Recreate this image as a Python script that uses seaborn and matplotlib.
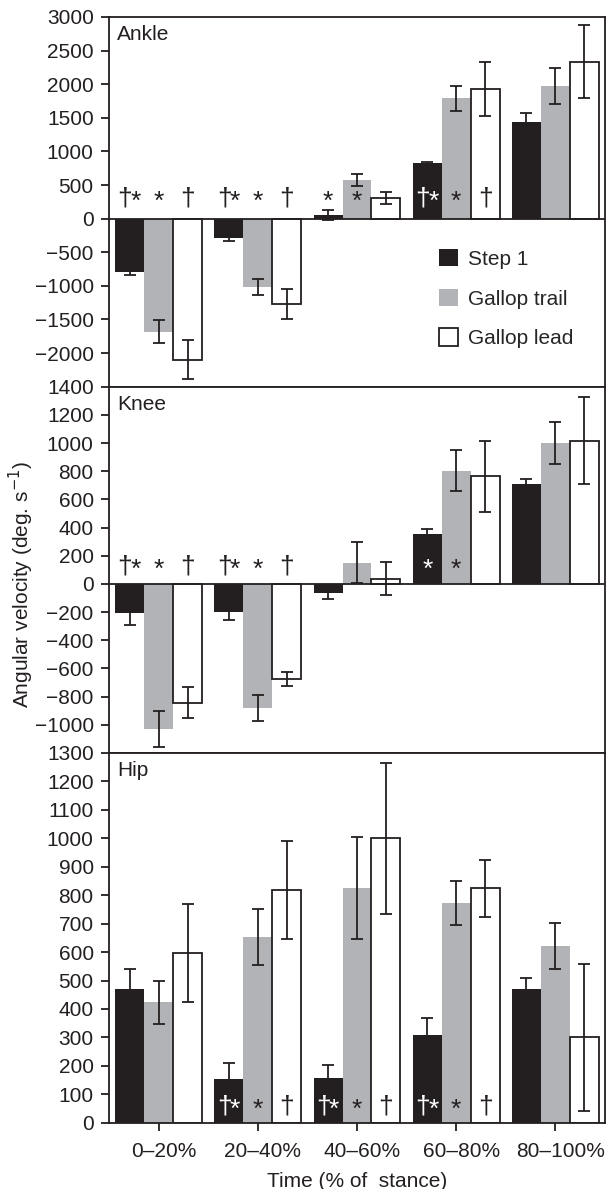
import numpy as np
import pandas as pd
import matplotlib
matplotlib.use("Agg")
import matplotlib.pyplot as plt
import matplotlib.transforms as mtransforms
import seaborn as sns

# ---- data ----
phases = ["0–20%", "20–40%", "40–60%", "60–80%", "80–100%"]
gaits = ["Step 1", "Gallop trail", "Gallop lead"]
joints = ["Ankle", "Knee", "Hip"]

# means per gait (rows: Step 1, Gallop trail, Gallop lead)
ankle_mean = [[-790, -285, 55, 825, 1435],
              [-1680, -1020, 570, 1790, 1970],
              [-2100, -1270, 305, 1930, 2335]]
ankle_err = [[50, 40, 80, 20, 140],
             [165, 115, 90, 190, 265],
             [290, 225, 90, 405, 540]]

knee_mean = [[-208, -196, -61, 356, 710],
             [-1030, -880, 150, 804, 1000],
             [-845, -675, 38, 764, 1016]]
knee_err = [[80, 60, 47, 33, 33],
            [125, 90, 145, 146, 146],
            [110, 48, 117, 253, 308]]

hip_mean = [[470, 153, 156, 308, 470],
            [424, 653, 826, 773, 622],
            [596, 818, 1000, 825, 300]]
hip_err = [[72, 57, 48, 59, 40],
           [76, 100, 180, 78, 81],
           [173, 171, 265, 100, 258]]

# significance marks: (phase index, gait index, symbol, white text?)
ankle_marks = [(0, 0, "†*", False), (0, 1, "*", False), (0, 2, "†", False),
               (1, 0, "†*", False), (1, 1, "*", False), (1, 2, "†", False),
               (2, 0, "*", False), (2, 1, "*", False),
               (3, 0, "†*", True), (3, 1, "*", False), (3, 2, "†", False)]
knee_marks = [(0, 0, "†*", False), (0, 1, "*", False), (0, 2, "†", False),
              (1, 0, "†*", False), (1, 1, "*", False), (1, 2, "†", False),
              (3, 0, "*", True), (3, 1, "*", False)]
hip_marks = [(1, 0, "†*", True), (1, 1, "*", False), (1, 2, "†", False),
             (2, 0, "†*", True), (2, 1, "*", False), (2, 2, "†", False),
             (3, 0, "†*", True), (3, 1, "*", False), (3, 2, "†", False)]

ylims = [(-2500, 3000), (-1200, 1400), (0, 1300)]
yticks = [np.arange(-2000, 3001, 500), np.arange(-1000, 1401, 200), np.arange(0, 1301, 100)]
mark_lift = [14.5, 12.5, 11.5]  # height of dagger centre above zero, points

ink = "#231f20"
colours = [ink, "#b1b3b6", "#ffffff"]
fs = 15

sns.set_style("ticks")
plt.rcParams["font.family"] = ["Liberation Sans", "DejaVu Sans"]
plt.rcParams["font.size"] = fs
plt.rcParams["axes.linewidth"] = 1.3
plt.rcParams["axes.edgecolor"] = ink

fig = plt.figure(figsize=(6.13, 11.89), dpi=100)
left, width = 109 / 613, 496 / 613
tops = [17, 386.7, 753]
bottoms = [386.7, 753, 1122.7]

all_means = [ankle_mean, knee_mean, hip_mean]
all_errs = [ankle_err, knee_err, hip_err]
all_marks = [ankle_marks, knee_marks, hip_marks]


def draw_mark(ax, x, sym, white, lift):
    col = "white" if white else ink
    if sym == "†*":
        parts = [("†", -3.4, lift), ("*", 4.4, lift - 2.4)]
    elif sym == "*":
        parts = [("*", 0, lift - 2.4)]
    else:
        parts = [("†", 0, lift)]
    for s, dx, dy in parts:
        ax.annotate(s, xy=(x, 0), xytext=(dx, dy), textcoords="offset points",
                    ha="center", va="center", color=col, fontsize=19, zorder=5)


for i, joint in enumerate(joints):
    ax = fig.add_axes([left, 1 - bottoms[i] / 1189, width, (bottoms[i] - tops[i]) / 1189])
    means = all_means[i]
    errs = all_errs[i]
    df = pd.DataFrame({
        "phase": np.tile(phases, len(gaits)),
        "gait": np.repeat(gaits, len(phases)),
        "value": np.concatenate(means),
    })
    sns.barplot(data=df, x="phase", y="value", hue="gait", order=phases, hue_order=gaits,
                palette=colours, saturation=1, width=0.875, errorbar=None,
                legend=False, ax=ax)
    bars = list(ax.containers)

    for h, cont in enumerate(bars):
        for b in cont:
            if h == 2:
                b.set_edgecolor(ink)
                b.set_linewidth(1.3)
            else:
                b.set_linewidth(0)
        xs = [b.get_x() + b.get_width() / 2 for b in cont]
        ax.errorbar(xs, means[h], yerr=errs[h], fmt="none", ecolor=ink,
                    elinewidth=1.3, capsize=4.3, capthick=1.3, zorder=3)

    if ylims[i][0] < 0:
        ax.axhline(0, color=ink, lw=1.3, zorder=2.5)

    for p, g, sym, white in all_marks[i]:
        b = bars[g][p]
        draw_mark(ax, b.get_x() + b.get_width() / 2, sym, white, mark_lift[i])

    ax.set_xlim(-0.5, 4.5)
    ax.set_ylim(*ylims[i])
    ax.set_yticks(yticks[i])
    ax.set_ylabel("")
    ax.set_xlabel("")
    for s in ax.spines.values():
        s.set_visible(True)
        s.set_color(ink)
        s.set_linewidth(1.3)
    ax.tick_params(axis="y", direction="out", length=6, width=1.3, color=ink,
                   labelsize=fs, pad=5, labelcolor=ink)
    ax.text(0.016, 0.978, joint, transform=ax.transAxes, ha="left", va="top",
            fontsize=fs, color=ink)

    if i < 2:
        ax.tick_params(axis="x", bottom=False, labelbottom=False)
    else:
        ax.tick_params(axis="x", direction="out", length=6, width=1.3, color=ink,
                       labelsize=fs, pad=8, labelcolor=ink)
        shift = mtransforms.ScaledTranslation(0.05, 0, fig.dpi_scale_trans)
        for lbl in ax.get_xticklabels():
            lbl.set_transform(lbl.get_transform() + shift)
        ax.set_xlabel("Time (% of  stance)", fontsize=fs, color=ink, labelpad=8)

    if i == 0:
        ax.legend(bars, gaits, loc="upper left", bbox_to_anchor=(0.665, 0.372),
                  frameon=False, fontsize=fs, handlelength=0.9, handleheight=0.9,
                  handletextpad=0.5, labelspacing=0.95, borderpad=0, borderaxespad=0)

fig.text(21 / 613, 1 - 585 / 1189, "Angular velocity (deg. s$^{-1}$)", rotation=90,
         ha="center", va="center", fontsize=fs, color=ink)

fig.savefig("out.png", dpi=100)
